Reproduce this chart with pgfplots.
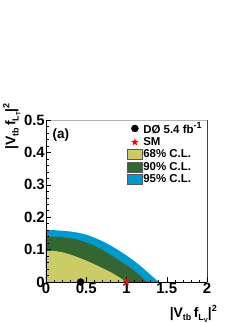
\documentclass[border=0pt]{standalone}
\usepackage{fontspec}
\setmainfont{Liberation Sans}
\usepackage{pgfplots}
\pgfplotsset{compat=1.18}
\definecolor{cA}{RGB}{204,204,102}
\definecolor{cB}{RGB}{51,102,51}
\definecolor{cC}{RGB}{0,153,204}
\definecolor{frm}{RGB}{128,40,40}
\pgfdeclareplotmark{fstar}{%
 \pgfpathmoveto{\pgfpointpolar{90}{\pgfplotmarksize}}%
 \pgfpathlineto{\pgfpointpolar{126}{0.4\pgfplotmarksize}}%
 \pgfpathlineto{\pgfpointpolar{162}{\pgfplotmarksize}}%
 \pgfpathlineto{\pgfpointpolar{198}{0.4\pgfplotmarksize}}%
 \pgfpathlineto{\pgfpointpolar{234}{\pgfplotmarksize}}%
 \pgfpathlineto{\pgfpointpolar{270}{0.4\pgfplotmarksize}}%
 \pgfpathlineto{\pgfpointpolar{306}{\pgfplotmarksize}}%
 \pgfpathlineto{\pgfpointpolar{342}{0.4\pgfplotmarksize}}%
 \pgfpathlineto{\pgfpointpolar{18}{\pgfplotmarksize}}%
 \pgfpathlineto{\pgfpointpolar{54}{0.4\pgfplotmarksize}}%
 \pgfpathclose\pgfusepathqfill}
\pgfplotsset{
  markleg/.style={legend image code/.code={\draw[##1] plot coordinates {(8bp,0bp)};}},
  boxleg/.style={legend image code/.code={\draw[##1] (0bp,-5bp) rectangle (15bp,5bp);}},
}
\newcommand{\sbs}[1]{\raisebox{-0.45ex}{\fontsize{9}{9}\selectfont #1}}
\newcommand{\ssbs}[1]{\raisebox{-0.35ex}{\fontsize{6}{6}\selectfont #1}}
\newcommand{\sps}[1]{\raisebox{0.8ex}{\fontsize{9}{9}\selectfont #1}}
\begin{document}
\begin{tikzpicture}
\path[use as bounding box] (0,0) rectangle (249bp,323bp);
\begin{axis}[at={(46bp,41bp)}, anchor=south west, scale only axis,
  width=161bp, height=162bp,
  xmin=0, xmax=2, ymin=0, ymax=0.5,
  axis x line*=bottom, axis y line*=left,
  axis line style={black, line width=0.8pt},
  xtick={0,0.5,1,1.5,2}, ytick={0,0.1,0.2,0.3,0.4,0.5},
  minor x tick num=4, minor y tick num=4,
  tick align=inside,
  major tick length=5bp, minor tick length=2.5bp,
  tick style={black, line width=0.5pt},
  tick label style={font=\fontsize{15}{15}\selectfont\bfseries, inner sep=1pt},
  /pgf/number format/assume math mode=true,
  axis on top, clip=false,
  legend cell align=left,
  legend style={at={(rel axis cs:0.5,0.995)}, anchor=north west, draw=none, fill=none,
    inner sep=0pt, row sep=0.4bp, font=\fontsize{11.5}{13}\selectfont\bfseries,
    nodes={inner sep=1.2pt}},
]
\addlegendimage{markleg, only marks, mark=*, mark size=3.5bp, black}
\addlegendentry{DØ 5.4 fb\sps{-1}}
\addlegendimage{markleg, only marks, mark=fstar, mark size=4bp, red}
\addlegendentry{SM}
\addlegendimage{boxleg, fill=cA, draw=gray!70!black}
\addlegendentry{68\% C.L.}
\addlegendimage{boxleg, fill=cB, draw=gray!70!black}
\addlegendentry{90\% C.L.}
\addlegendimage{boxleg, fill=cC, draw=gray!70!black}
\addlegendentry{95\% C.L.}

% 95% C.L.
\addplot[fill=cC, draw=none, forget plot] coordinates {
(0,0) (0,0.160) (0.1,0.160) (0.2,0.158) (0.3,0.156) (0.4,0.152) (0.5,0.146)
(0.6,0.137) (0.7,0.126) (0.8,0.113) (0.9,0.098) (1.0,0.082) (1.1,0.064)
(1.2,0.044) (1.3,0.022) (1.40,0) } -- cycle;
% 90% C.L.
\addplot[fill=cB, draw=none, forget plot] coordinates {
(0,0) (0,0.140) (0.1,0.140) (0.2,0.138) (0.3,0.135) (0.4,0.130) (0.5,0.122)
(0.6,0.112) (0.7,0.099) (0.8,0.084) (0.9,0.068) (1.0,0.052) (1.1,0.034)
(1.2,0.012) (1.25,0) } -- cycle;
% 68% C.L.
\addplot[fill=cA, draw=none, forget plot] coordinates {
(0,0) (0,0.095) (0.1,0.096) (0.2,0.092) (0.3,0.085) (0.4,0.076) (0.5,0.066)
(0.6,0.055) (0.7,0.043) (0.8,0.031) (0.9,0.016) (1.0,0) } -- cycle;

\addplot[only marks, mark=*, mark size=3.5bp, black, forget plot] coordinates {(0.43,0)};
\addplot[only marks, mark=fstar, mark size=4bp, red, forget plot] coordinates {(1,0)};

\draw[gray!60, line width=0.4pt] (rel axis cs:0,1) -- (rel axis cs:1,1);
\draw[frm, line width=0.6pt] (rel axis cs:1,0) -- (rel axis cs:1,1);

\node[anchor=west, inner sep=0pt, font=\fontsize{13.5}{13.5}\selectfont\bfseries] at (rel axis cs:0.04,0.907) {(a)};
\node[rotate=90, anchor=north east, inner sep=0pt, font=\fontsize{14}{14}\selectfont\bfseries]
  at (rel axis cs:-0.267,1.105) {|V\sbs{tb}\,f\sbs{L\ssbs{T}}|\sps{2}};
\node[anchor=north east, inner sep=0pt, font=\fontsize{14}{14}\selectfont\bfseries]
  at (rel axis cs:1.062,-0.142) {|V\sbs{tb}\,f\sbs{L\ssbs{V}}|\sps{2}};
\end{axis}
\end{tikzpicture}
\end{document}
